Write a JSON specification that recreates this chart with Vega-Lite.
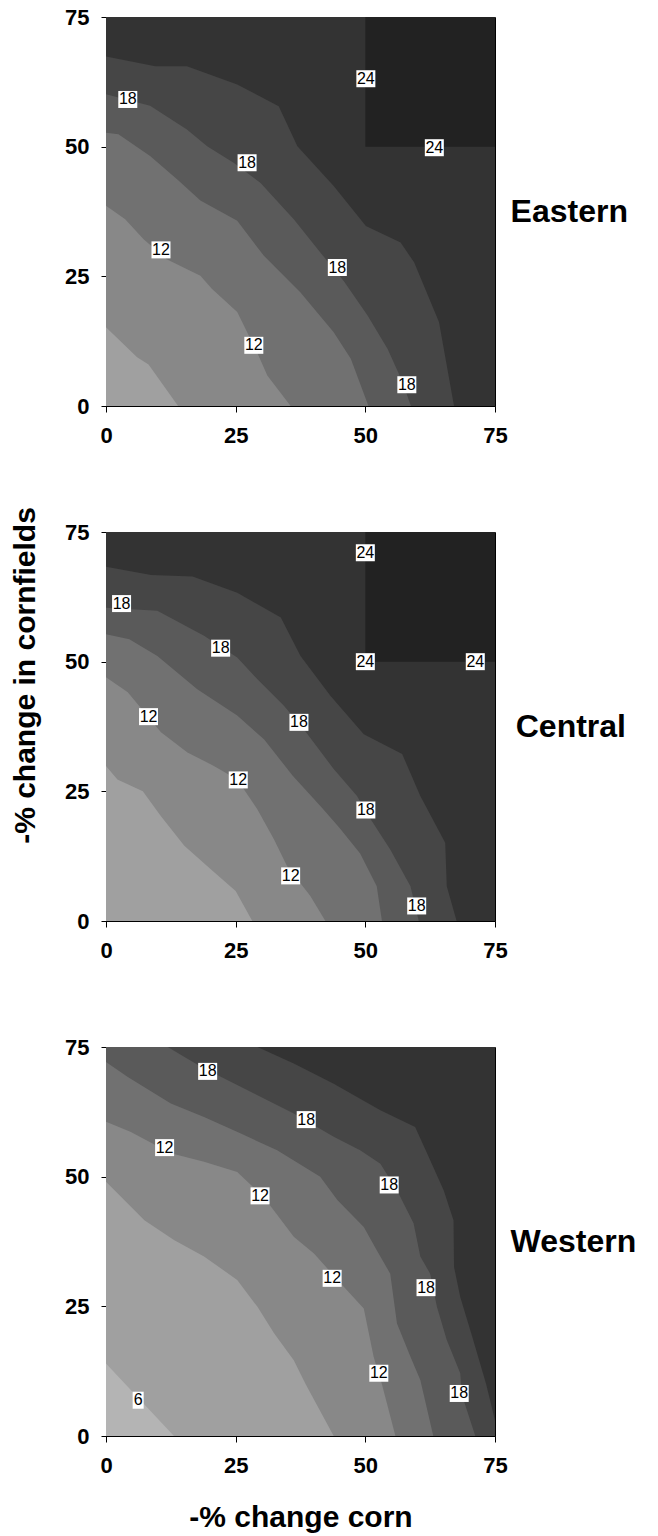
{
  "$schema": "https://vega.github.io/schema/vega-lite/v6.json",
  "background": "white",
  "padding": {"left": 10, "top": 5, "right": 5, "bottom": 0},
  "bounds": "flush",
  "spacing": 126,
  "datasets": {
    "east": [
      {"b":"a","i":0,"x":0,"y":75,"y0":0},{"b":"a","i":1,"x":75,"y":75,"y0":0},
      {"b":"b","i":0,"x":50,"y":75,"y0":50},{"b":"b","i":1,"x":75,"y":75,"y0":50},
      {"b":"c","i":0,"x":0,"y":67.4,"y0":0},{"b":"c","i":1,"x":9.5,"y":65.5,"y0":0},{"b":"c","i":2,"x":15.6,"y":65.5,"y0":0},{"b":"c","i":3,"x":25.3,"y":62,"y0":0},{"b":"c","i":4,"x":33.3,"y":57.8,"y0":0},{"b":"c","i":5,"x":36.9,"y":50.1,"y0":0},{"b":"c","i":6,"x":43.9,"y":42.4,"y0":0},{"b":"c","i":7,"x":50.1,"y":34.7,"y0":0},{"b":"c","i":8,"x":56.8,"y":31.5,"y0":0},{"b":"c","i":9,"x":59.4,"y":27.7,"y0":0},{"b":"c","i":10,"x":64.2,"y":16.2,"y0":0},{"b":"c","i":11,"x":67.1,"y":0,"y0":0},
      {"b":"d","i":0,"x":0,"y":60.1,"y0":0},{"b":"d","i":1,"x":8.5,"y":57.9,"y0":0},{"b":"d","i":2,"x":15.6,"y":53.3,"y0":0},{"b":"d","i":3,"x":19.5,"y":50.1,"y0":0},{"b":"d","i":4,"x":24.6,"y":46.9,"y0":0},{"b":"d","i":5,"x":29.8,"y":43,"y0":0},{"b":"d","i":6,"x":36.2,"y":36,"y0":0},{"b":"d","i":7,"x":41.4,"y":29.5,"y0":0},{"b":"d","i":8,"x":45.9,"y":24,"y0":0},{"b":"d","i":9,"x":50.4,"y":17.5,"y0":0},{"b":"d","i":10,"x":54.3,"y":11,"y0":0},{"b":"d","i":11,"x":57,"y":5,"y0":0},{"b":"d","i":12,"x":58.8,"y":0,"y0":0},
      {"b":"e","i":0,"x":0,"y":52.7,"y0":0},{"b":"e","i":1,"x":2.4,"y":52.4,"y0":0},{"b":"e","i":2,"x":8.5,"y":48.2,"y0":0},{"b":"e","i":3,"x":13.7,"y":43.7,"y0":0},{"b":"e","i":4,"x":18.2,"y":39.6,"y0":0},{"b":"e","i":5,"x":25.3,"y":35.7,"y0":0},{"b":"e","i":6,"x":30.4,"y":29,"y0":0},{"b":"e","i":7,"x":37.5,"y":21.9,"y0":0},{"b":"e","i":8,"x":43.9,"y":14.2,"y0":0},{"b":"e","i":9,"x":47.2,"y":9.1,"y0":0},{"b":"e","i":10,"x":50.6,"y":0,"y0":0},
      {"b":"f","i":0,"x":0,"y":38.6,"y0":0},{"b":"f","i":1,"x":3.7,"y":36,"y0":0},{"b":"f","i":2,"x":7.2,"y":32.2,"y0":0},{"b":"f","i":3,"x":11.7,"y":28.3,"y0":0},{"b":"f","i":4,"x":18.2,"y":25.1,"y0":0},{"b":"f","i":5,"x":20.4,"y":22.6,"y0":0},{"b":"f","i":6,"x":25.3,"y":18.1,"y0":0},{"b":"f","i":7,"x":29.1,"y":10.4,"y0":0},{"b":"f","i":8,"x":31.1,"y":5.9,"y0":0},{"b":"f","i":9,"x":35.6,"y":0,"y0":0},
      {"b":"g","i":0,"x":0,"y":15.2,"y0":0},{"b":"g","i":1,"x":6,"y":9.4,"y0":0},{"b":"g","i":2,"x":8.2,"y":8,"y0":0},{"b":"g","i":3,"x":13.9,"y":0,"y0":0}
    ],
    "central": [
      {"b":"a","i":0,"x":0,"y":75,"y0":0},{"b":"a","i":1,"x":75,"y":75,"y0":0},
      {"b":"b","i":0,"x":50,"y":75,"y0":50},{"b":"b","i":1,"x":75,"y":75,"y0":50},
      {"b":"c","i":0,"x":0,"y":68.3,"y0":0},{"b":"c","i":1,"x":8.7,"y":66.7,"y0":0},{"b":"c","i":2,"x":16.7,"y":66.4,"y0":0},{"b":"c","i":3,"x":25.3,"y":63.3,"y0":0},{"b":"c","i":4,"x":33.7,"y":58.5,"y0":0},{"b":"c","i":5,"x":37.5,"y":51.1,"y0":0},{"b":"c","i":6,"x":43.3,"y":43.4,"y0":0},{"b":"c","i":7,"x":49.7,"y":36,"y0":0},{"b":"c","i":8,"x":57.1,"y":32.2,"y0":0},{"b":"c","i":9,"x":60.6,"y":24.1,"y0":0},{"b":"c","i":10,"x":65.4,"y":15.1,"y0":0},{"b":"c","i":11,"x":65.7,"y":6.7,"y0":0},{"b":"c","i":12,"x":67.6,"y":0,"y0":0},
      {"b":"d","i":0,"x":0,"y":60.4,"y0":0},{"b":"d","i":1,"x":9.9,"y":59.8,"y0":0},{"b":"d","i":2,"x":18.9,"y":55,"y0":0},{"b":"d","i":3,"x":25.3,"y":50.8,"y0":0},{"b":"d","i":4,"x":29.2,"y":46.6,"y0":0},{"b":"d","i":5,"x":34.3,"y":41.5,"y0":0},{"b":"d","i":6,"x":38.1,"y":37,"y0":0},{"b":"d","i":7,"x":43.9,"y":29.3,"y0":0},{"b":"d","i":8,"x":48.4,"y":24.1,"y0":0},{"b":"d","i":9,"x":50,"y":21.2,"y0":0},{"b":"d","i":10,"x":54.8,"y":13.8,"y0":0},{"b":"d","i":11,"x":58.7,"y":6.7,"y0":0},{"b":"d","i":12,"x":60.3,"y":0,"y0":0},
      {"b":"e","i":0,"x":0,"y":55.3,"y0":0},{"b":"e","i":1,"x":4.5,"y":54.3,"y0":0},{"b":"e","i":2,"x":9.9,"y":51.1,"y0":0},{"b":"e","i":3,"x":17.6,"y":44.7,"y0":0},{"b":"e","i":4,"x":25.3,"y":39.6,"y0":0},{"b":"e","i":5,"x":30.5,"y":35,"y0":0},{"b":"e","i":6,"x":36,"y":28,"y0":0},{"b":"e","i":7,"x":41.5,"y":22,"y0":0},{"b":"e","i":8,"x":45,"y":18,"y0":0},{"b":"e","i":9,"x":49,"y":13,"y0":0},{"b":"e","i":10,"x":52.2,"y":6.7,"y0":0},{"b":"e","i":11,"x":53.2,"y":0,"y0":0},
      {"b":"f","i":0,"x":0,"y":47,"y0":0},{"b":"f","i":1,"x":4.2,"y":44.1,"y0":0},{"b":"f","i":2,"x":10.6,"y":36.4,"y0":0},{"b":"f","i":3,"x":15.7,"y":32.5,"y0":0},{"b":"f","i":4,"x":20.8,"y":29.9,"y0":0},{"b":"f","i":5,"x":25.3,"y":27.3,"y0":0},{"b":"f","i":6,"x":29.2,"y":21.5,"y0":0},{"b":"f","i":7,"x":32.4,"y":15.7,"y0":0},{"b":"f","i":8,"x":34.9,"y":10.6,"y0":0},{"b":"f","i":9,"x":39.4,"y":4.8,"y0":0},{"b":"f","i":10,"x":42.3,"y":0,"y0":0},
      {"b":"g","i":0,"x":0,"y":29.9,"y0":0},{"b":"g","i":1,"x":2.2,"y":27.3,"y0":0},{"b":"g","i":2,"x":7.1,"y":25,"y0":0},{"b":"g","i":3,"x":10.6,"y":20.2,"y0":0},{"b":"g","i":4,"x":15.1,"y":14.5,"y0":0},{"b":"g","i":5,"x":20.2,"y":10,"y0":0},{"b":"g","i":6,"x":25,"y":5.8,"y0":0},{"b":"g","i":7,"x":26.6,"y":2.9,"y0":0},{"b":"g","i":8,"x":28.2,"y":0,"y0":0}
    ],
    "west": [
      {"b":"a","i":0,"x":0,"y":75,"y0":0},{"b":"a","i":1,"x":75,"y":75,"y0":0},
      {"b":"c","i":0,"x":0,"y":75,"y0":0},{"b":"c","i":1,"x":29.2,"y":75,"y0":0},{"b":"c","i":2,"x":36.2,"y":71.8,"y0":0},{"b":"c","i":3,"x":43.9,"y":67.9,"y0":0},{"b":"c","i":4,"x":52.9,"y":62.8,"y0":0},{"b":"c","i":5,"x":59.6,"y":59.6,"y0":0},{"b":"c","i":6,"x":61.9,"y":54.5,"y0":0},{"b":"c","i":7,"x":65.1,"y":47.4,"y0":0},{"b":"c","i":8,"x":67,"y":41.6,"y0":0},{"b":"c","i":9,"x":67.1,"y":32.6,"y0":0},{"b":"c","i":10,"x":68.3,"y":26.8,"y0":0},{"b":"c","i":11,"x":70.8,"y":18.5,"y0":0},{"b":"c","i":12,"x":73.3,"y":10,"y0":0},{"b":"c","i":13,"x":75,"y":3,"y0":0},
      {"b":"d","i":0,"x":0,"y":75,"y0":0},{"b":"d","i":1,"x":11.9,"y":75,"y0":0},{"b":"d","i":2,"x":18.3,"y":71.2,"y0":0},{"b":"d","i":3,"x":27.2,"y":66.7,"y0":0},{"b":"d","i":4,"x":36.2,"y":62.2,"y0":0},{"b":"d","i":5,"x":43.9,"y":57.7,"y0":0},{"b":"d","i":6,"x":49,"y":55.1,"y0":0},{"b":"d","i":7,"x":52.9,"y":52.5,"y0":0},{"b":"d","i":8,"x":56.1,"y":47.4,"y0":0},{"b":"d","i":9,"x":59.3,"y":41,"y0":0},{"b":"d","i":10,"x":60.6,"y":34.6,"y0":0},{"b":"d","i":11,"x":62.5,"y":31.3,"y0":0},{"b":"d","i":12,"x":63.8,"y":24.9,"y0":0},{"b":"d","i":13,"x":65.7,"y":18.5,"y0":0},{"b":"d","i":14,"x":68.3,"y":12.1,"y0":0},{"b":"d","i":15,"x":68.6,"y":8,"y0":0},{"b":"d","i":16,"x":71.2,"y":0,"y0":0},
      {"b":"e","i":0,"x":0,"y":72.1,"y0":0},{"b":"e","i":1,"x":4.2,"y":69.2,"y0":0},{"b":"e","i":2,"x":12.5,"y":64.1,"y0":0},{"b":"e","i":3,"x":18.9,"y":61.5,"y0":0},{"b":"e","i":4,"x":26,"y":58.3,"y0":0},{"b":"e","i":5,"x":33,"y":55.1,"y0":0},{"b":"e","i":6,"x":41.3,"y":50,"y0":0},{"b":"e","i":7,"x":44.6,"y":45.5,"y0":0},{"b":"e","i":8,"x":49.7,"y":40.3,"y0":0},{"b":"e","i":9,"x":52.2,"y":35.8,"y0":0},{"b":"e","i":10,"x":54.8,"y":31.3,"y0":0},{"b":"e","i":11,"x":56.1,"y":21.7,"y0":0},{"b":"e","i":12,"x":58.7,"y":15.3,"y0":0},{"b":"e","i":13,"x":60.6,"y":10.8,"y0":0},{"b":"e","i":14,"x":63.1,"y":0,"y0":0},
      {"b":"f","i":0,"x":0,"y":60.6,"y0":0},{"b":"f","i":1,"x":4.8,"y":58.6,"y0":0},{"b":"f","i":2,"x":12.5,"y":54.5,"y0":0},{"b":"f","i":3,"x":18.9,"y":52.9,"y0":0},{"b":"f","i":4,"x":25.3,"y":50.9,"y0":0},{"b":"f","i":5,"x":30.4,"y":46.1,"y0":0},{"b":"f","i":6,"x":36.2,"y":38.4,"y0":0},{"b":"f","i":7,"x":40.1,"y":35.2,"y0":0},{"b":"f","i":8,"x":45.8,"y":28.8,"y0":0},{"b":"f","i":9,"x":49.7,"y":24.6,"y0":0},{"b":"f","i":10,"x":51.6,"y":15.3,"y0":0},{"b":"f","i":11,"x":53.2,"y":10,"y0":0},{"b":"f","i":12,"x":55.8,"y":0,"y0":0},
      {"b":"g","i":0,"x":0,"y":49,"y0":0},{"b":"g","i":1,"x":2.6,"y":46.4,"y0":0},{"b":"g","i":2,"x":7.4,"y":41.6,"y0":0},{"b":"g","i":3,"x":13.1,"y":37.8,"y0":0},{"b":"g","i":4,"x":18.9,"y":34.6,"y0":0},{"b":"g","i":5,"x":25.3,"y":30.1,"y0":0},{"b":"g","i":6,"x":29.2,"y":24.9,"y0":0},{"b":"g","i":7,"x":32.4,"y":19.8,"y0":0},{"b":"g","i":8,"x":36.2,"y":14.6,"y0":0},{"b":"g","i":9,"x":38.5,"y":10,"y0":0},{"b":"g","i":10,"x":43.9,"y":0,"y0":0},
      {"b":"h","i":0,"x":0,"y":14,"y0":0},{"b":"h","i":1,"x":4.2,"y":9.5,"y0":0},{"b":"h","i":2,"x":13.1,"y":0,"y0":0}
    ],
    "labels": [
      {"p":"Eastern","x":4.2,"y":59.1,"t":"18","w":"2"},{"p":"Eastern","x":27.2,"y":46.9,"t":"18","w":"2"},{"p":"Eastern","x":50.1,"y":63.1,"t":"24","w":"2"},{"p":"Eastern","x":63.3,"y":49.8,"t":"24","w":"2"},{"p":"Eastern","x":10.6,"y":30.1,"t":"12","w":"2"},{"p":"Eastern","x":44.6,"y":26.7,"t":"18","w":"2"},{"p":"Eastern","x":28.5,"y":11.7,"t":"12","w":"2"},{"p":"Eastern","x":58,"y":4.1,"t":"18","w":"2"},
      {"p":"Central","x":50,"y":71,"t":"24","w":"2"},{"p":"Central","x":3,"y":61.2,"t":"18","w":"2"},{"p":"Central","x":22.1,"y":52.6,"t":"18","w":"2"},{"p":"Central","x":50,"y":50,"t":"24","w":"2"},{"p":"Central","x":71.2,"y":50,"t":"24","w":"2"},{"p":"Central","x":8.2,"y":39.4,"t":"12","w":"2"},{"p":"Central","x":37.2,"y":38.3,"t":"18","w":"2"},{"p":"Central","x":25.5,"y":27.2,"t":"12","w":"2"},{"p":"Central","x":50.1,"y":21.4,"t":"18","w":"2"},{"p":"Central","x":35.6,"y":8.7,"t":"12","w":"2"},{"p":"Central","x":59.9,"y":2.9,"t":"18","w":"2"},
      {"p":"Western","x":19.6,"y":70.3,"t":"18","w":"2"},{"p":"Western","x":38.6,"y":61,"t":"18","w":"2"},{"p":"Western","x":11.3,"y":55.6,"t":"12","w":"2"},{"p":"Western","x":54.6,"y":48.4,"t":"18","w":"2"},{"p":"Western","x":29.7,"y":46.3,"t":"12","w":"2"},{"p":"Western","x":43.6,"y":30.4,"t":"12","w":"2"},{"p":"Western","x":61.7,"y":28.6,"t":"18","w":"2"},{"p":"Western","x":52.6,"y":12.1,"t":"12","w":"2"},{"p":"Western","x":68.1,"y":8.2,"t":"18","w":"2"},{"p":"Western","x":6.2,"y":6.9,"t":"6","w":"1"}
    ],
    "regions": [
      {"p":"Eastern","x":78,"y":37.5,"t":"Eastern"},
      {"p":"Central","x":79,"y":37.5,"t":"Central"},
      {"p":"Western","x":78,"y":37.5,"t":"Western"}
    ]
  },
  "vconcat": [
    {
      "width": 389, "height": 389,
      "data": {"name": "east"},
      "encoding": {
        "x": {"field": "x", "type": "quantitative", "scale": {"domain": [0, 75], "nice": false, "zero": false}, "axis": {"values": [0, 25, 50, 75], "title": null}},
        "y": {"field": "y", "type": "quantitative", "scale": {"domain": [0, 75], "nice": false, "zero": false}, "axis": {"values": [0, 25, 50, 75], "title": null}}
      },
      "layer": [
        {"transform": [{"filter": "datum.b === 'a'"}], "mark": {"type": "area", "color": "#333333"}, "encoding": {"y2": {"field": "y0"}}},
        {"transform": [{"filter": "datum.b === 'b'"}], "mark": {"type": "area", "color": "#222222"}, "encoding": {"y2": {"field": "y0"}}},
        {"transform": [{"filter": "datum.b === 'c'"}], "mark": {"type": "area", "color": "#464646"}, "encoding": {"y2": {"field": "y0"}}},
        {"transform": [{"filter": "datum.b === 'd'"}], "mark": {"type": "area", "color": "#5a5a5a"}, "encoding": {"y2": {"field": "y0"}}},
        {"transform": [{"filter": "datum.b === 'e'"}], "mark": {"type": "area", "color": "#717171"}, "encoding": {"y2": {"field": "y0"}}},
        {"transform": [{"filter": "datum.b === 'f'"}], "mark": {"type": "area", "color": "#888888"}, "encoding": {"y2": {"field": "y0"}}},
        {"transform": [{"filter": "datum.b === 'g'"}], "mark": {"type": "area", "color": "#a0a0a0"}, "encoding": {"y2": {"field": "y0"}}},
        {"data": {"name": "labels"}, "transform": [{"filter": "datum.p === 'Eastern'"}], "mark": {"type": "point", "filled": true, "color": "white", "opacity": 1, "size": 361, "shape": "M-1,-0.895H1V0.895H-1Z"}},
        {"data": {"name": "labels"}, "transform": [{"filter": "datum.p === 'Eastern'"}], "mark": {"type": "text", "font": "Liberation Sans Narrow, Arial Narrow, Liberation Sans", "fontSize": 16, "color": "black", "align": "center", "baseline": "middle"}, "encoding": {"text": {"field": "t"}}},
        {"data": {"name": "regions"}, "transform": [{"filter": "datum.p === 'Eastern'"}], "mark": {"type": "text", "font": "Liberation Sans", "fontWeight": "bold", "fontSize": 32, "color": "black", "align": "left", "baseline": "middle"}, "encoding": {"text": {"field": "t"}}}
      ]
    },
    {
      "width": 389, "height": 389,
      "data": {"name": "central"},
      "encoding": {
        "x": {"field": "x", "type": "quantitative", "scale": {"domain": [0, 75], "nice": false, "zero": false}, "axis": {"values": [0, 25, 50, 75], "title": null}},
        "y": {"field": "y", "type": "quantitative", "scale": {"domain": [0, 75], "nice": false, "zero": false}, "axis": {"values": [0, 25, 50, 75], "title": "-% change in cornfields", "titleY": 143, "titlePadding": 24}}
      },
      "layer": [
        {"transform": [{"filter": "datum.b === 'a'"}], "mark": {"type": "area", "color": "#333333"}, "encoding": {"y2": {"field": "y0"}}},
        {"transform": [{"filter": "datum.b === 'b'"}], "mark": {"type": "area", "color": "#222222"}, "encoding": {"y2": {"field": "y0"}}},
        {"transform": [{"filter": "datum.b === 'c'"}], "mark": {"type": "area", "color": "#464646"}, "encoding": {"y2": {"field": "y0"}}},
        {"transform": [{"filter": "datum.b === 'd'"}], "mark": {"type": "area", "color": "#5a5a5a"}, "encoding": {"y2": {"field": "y0"}}},
        {"transform": [{"filter": "datum.b === 'e'"}], "mark": {"type": "area", "color": "#717171"}, "encoding": {"y2": {"field": "y0"}}},
        {"transform": [{"filter": "datum.b === 'f'"}], "mark": {"type": "area", "color": "#888888"}, "encoding": {"y2": {"field": "y0"}}},
        {"transform": [{"filter": "datum.b === 'g'"}], "mark": {"type": "area", "color": "#a0a0a0"}, "encoding": {"y2": {"field": "y0"}}},
        {"data": {"name": "labels"}, "transform": [{"filter": "datum.p === 'Central'"}], "mark": {"type": "point", "filled": true, "color": "white", "opacity": 1, "size": 361, "shape": "M-1,-0.895H1V0.895H-1Z"}},
        {"data": {"name": "labels"}, "transform": [{"filter": "datum.p === 'Central'"}], "mark": {"type": "text", "font": "Liberation Sans Narrow, Arial Narrow, Liberation Sans", "fontSize": 16, "color": "black", "align": "center", "baseline": "middle"}, "encoding": {"text": {"field": "t"}}},
        {"data": {"name": "regions"}, "transform": [{"filter": "datum.p === 'Central'"}], "mark": {"type": "text", "font": "Liberation Sans", "fontWeight": "bold", "fontSize": 32, "color": "black", "align": "left", "baseline": "middle"}, "encoding": {"text": {"field": "t"}}}
      ]
    },
    {
      "width": 389, "height": 389,
      "data": {"name": "west"},
      "encoding": {
        "x": {"field": "x", "type": "quantitative", "scale": {"domain": [0, 75], "nice": false, "zero": false}, "axis": {"values": [0, 25, 50, 75], "title": "-% change corn", "titlePadding": 26}},
        "y": {"field": "y", "type": "quantitative", "scale": {"domain": [0, 75], "nice": false, "zero": false}, "axis": {"values": [0, 25, 50, 75], "title": null}}
      },
      "layer": [
        {"transform": [{"filter": "datum.b === 'a'"}], "mark": {"type": "area", "color": "#333333"}, "encoding": {"y2": {"field": "y0"}}},
        {"transform": [{"filter": "datum.b === 'c'"}], "mark": {"type": "area", "color": "#464646"}, "encoding": {"y2": {"field": "y0"}}},
        {"transform": [{"filter": "datum.b === 'd'"}], "mark": {"type": "area", "color": "#5a5a5a"}, "encoding": {"y2": {"field": "y0"}}},
        {"transform": [{"filter": "datum.b === 'e'"}], "mark": {"type": "area", "color": "#717171"}, "encoding": {"y2": {"field": "y0"}}},
        {"transform": [{"filter": "datum.b === 'f'"}], "mark": {"type": "area", "color": "#888888"}, "encoding": {"y2": {"field": "y0"}}},
        {"transform": [{"filter": "datum.b === 'g'"}], "mark": {"type": "area", "color": "#a0a0a0"}, "encoding": {"y2": {"field": "y0"}}},
        {"transform": [{"filter": "datum.b === 'h'"}], "mark": {"type": "area", "color": "#b4b4b4"}, "encoding": {"y2": {"field": "y0"}}},
        {"data": {"name": "labels"}, "transform": [{"filter": "datum.p === 'Western' && datum.w === '2'"}], "mark": {"type": "point", "filled": true, "color": "white", "opacity": 1, "size": 361, "shape": "M-1,-0.895H1V0.895H-1Z"}},
        {"data": {"name": "labels"}, "transform": [{"filter": "datum.p === 'Western' && datum.w === '1'"}], "mark": {"type": "point", "filled": true, "color": "white", "opacity": 1, "size": 361, "shape": "M-0.58,-0.895H0.58V0.895H-0.58Z"}},
        {"data": {"name": "labels"}, "transform": [{"filter": "datum.p === 'Western'"}], "mark": {"type": "text", "font": "Liberation Sans Narrow, Arial Narrow, Liberation Sans", "fontSize": 16, "color": "black", "align": "center", "baseline": "middle"}, "encoding": {"text": {"field": "t"}}},
        {"data": {"name": "regions"}, "transform": [{"filter": "datum.p === 'Western'"}], "mark": {"type": "text", "font": "Liberation Sans", "fontWeight": "bold", "fontSize": 32, "color": "black", "align": "left", "baseline": "middle"}, "encoding": {"text": {"field": "t"}}}
      ]
    }
  ],
  "config": {
    "font": "Liberation Sans",
    "view": {"stroke": "#000000", "strokeWidth": 1},
    "axis": {"grid": false, "labelFont": "Liberation Sans", "labelFontWeight": "bold", "labelFontSize": 22, "labelColor": "#000000", "domainColor": "#000000", "tickColor": "#000000", "titleFont": "Liberation Sans", "titleFontWeight": "bold", "titleFontSize": 30, "titleColor": "#000000", "labelFlush": false, "labelOverlap": false},
    "axisX": {"tickSize": 6, "labelPadding": 13},
    "axisY": {"tickSize": 5, "labelPadding": 12}
  }
}
